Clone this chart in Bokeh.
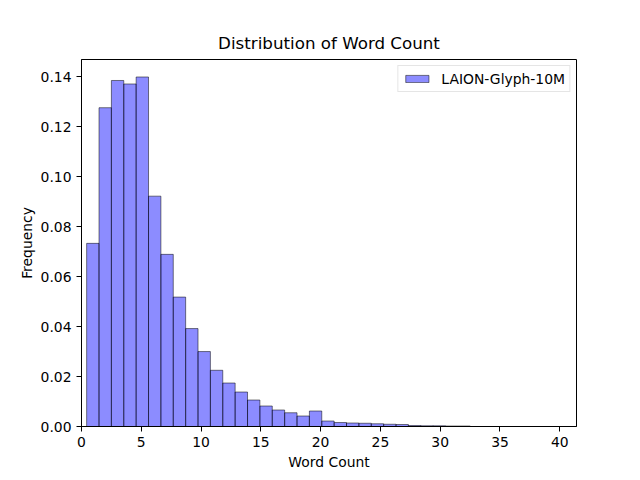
from bokeh.plotting import figure
from bokeh.models import Range1d, FixedTicker, PrintfTickFormatter, Legend
from bokeh.embed import file_html
from bokeh.resources import INLINE

# ---- data ----
bin_edges = [0.43, 1.465, 2.50, 3.535, 4.57, 5.605, 6.64, 7.675, 8.71, 9.745,
             10.78, 11.815, 12.85, 13.885, 14.92, 15.955, 16.99, 18.025, 19.06,
             20.095, 21.13, 22.165, 23.20, 24.235, 25.27, 26.305, 27.34, 28.375,
             29.41, 30.445, 31.48, 32.515]
frequencies = [0.0733, 0.1276, 0.1385, 0.1371, 0.1399, 0.0922, 0.0689, 0.0518,
               0.0392, 0.0300, 0.0225, 0.0174, 0.0138, 0.0106, 0.0082, 0.0066,
               0.0055, 0.0042, 0.0062, 0.0022, 0.0016, 0.0014, 0.0013, 0.0011,
               0.0009, 0.0008, 0.0004, 0.0003, 0.0003, 0.0002, 0.0002]
series_name = "LAION-Glyph-10M"
x_ticks = [0, 5, 10, 15, 20, 25, 30, 35, 40]
y_ticks = [0.00, 0.02, 0.04, 0.06, 0.08, 0.10, 0.12, 0.14]

FONT = "DejaVu Sans"

p = figure(width=632, height=472, output_backend="svg", toolbar_location=None,
           x_range=Range1d(0, 41.4), y_range=Range1d(0, 0.1469),
           title="Distribution of Word Count",
           min_border_left=81, min_border_right=56, min_border_top=59,
           min_border_bottom=44)

r = p.quad(left=bin_edges[:-1], right=bin_edges[1:], top=frequencies, bottom=0,
           fill_color="blue", fill_alpha=0.45, line_color="black", line_alpha=0.5,
           line_width=1)

p.title.text_font = FONT
p.title.text_font_size = "16.7px"
p.title.text_font_style = "normal"
p.title.align = "center"
p.title.text_color = "black"
p.title.standoff = 13

p.xgrid.visible = False
p.ygrid.visible = False
p.outline_line_color = "black"
p.outline_line_alpha = 1.0
p.outline_line_width = 1

for ax in (p.xaxis[0], p.yaxis[0]):
    ax.major_label_text_font = FONT
    ax.major_label_text_font_size = "13.9px"
    ax.major_label_text_color = "black"
    ax.axis_label_text_font = FONT
    ax.axis_label_text_font_size = "13.9px"
    ax.axis_label_text_font_style = "normal"
    ax.axis_label_text_color = "black"
    ax.major_tick_in = 0
    ax.major_tick_out = 5
    ax.minor_tick_in = 0
    ax.minor_tick_out = 0
    ax.axis_line_color = "black"
    ax.major_tick_line_color = "black"

p.xaxis[0].ticker = FixedTicker(ticks=x_ticks)
p.yaxis[0].ticker = FixedTicker(ticks=y_ticks)
p.yaxis[0].formatter = PrintfTickFormatter(format="%.2f")
p.xaxis[0].axis_label = "Word Count"
p.yaxis[0].axis_label = "Frequency"
p.xaxis[0].axis_label_standoff = 4
p.yaxis[0].axis_label_standoff = 3

legend = Legend(items=[(series_name, [r])], location="top_right")
legend.label_text_font = FONT
legend.label_text_font_size = "13.9px"
legend.label_text_color = "black"
legend.glyph_width = 29
legend.glyph_height = 9
legend.label_height = 17
legend.label_standoff = 10
legend.padding = 4
legend.margin = 6
legend.border_line_color = "#cccccc"
legend.border_line_width = 1
legend.background_fill_alpha = 0.8
p.add_layout(legend)

open("out.html", "w").write(file_html(p, INLINE))
